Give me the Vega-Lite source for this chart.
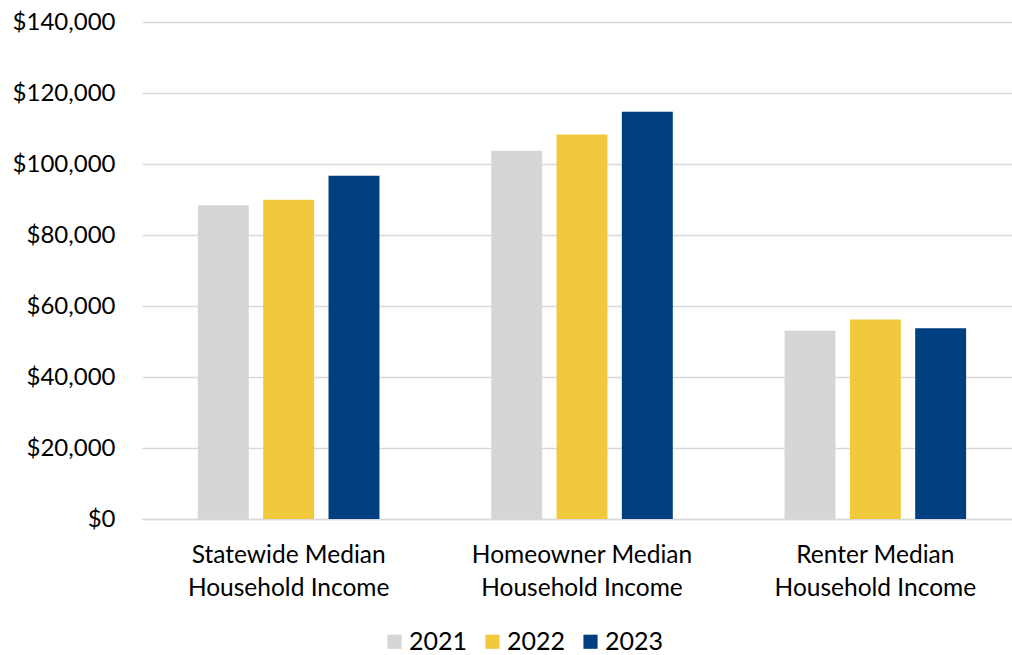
{
  "$schema": "https://vega.github.io/schema/vega-lite/v6.json",
  "width": 880,
  "height": 497,
  "autosize": {"type": "none"},
  "padding": {"left": 142, "top": 22, "right": 0, "bottom": 136},
  "background": "white",
  "data": {
    "values": [
      {"category": "Statewide Median Household Income", "year": "2021", "income": 88400},
      {"category": "Statewide Median Household Income", "year": "2022", "income": 89900},
      {"category": "Statewide Median Household Income", "year": "2023", "income": 96700},
      {"category": "Homeowner Median Household Income", "year": "2021", "income": 103700},
      {"category": "Homeowner Median Household Income", "year": "2022", "income": 108300},
      {"category": "Homeowner Median Household Income", "year": "2023", "income": 114700},
      {"category": "Renter Median Household Income", "year": "2021", "income": 53000},
      {"category": "Renter Median Household Income", "year": "2022", "income": 56200},
      {"category": "Renter Median Household Income", "year": "2023", "income": 53700}
    ]
  },
  "mark": {"type": "bar"},
  "encoding": {
    "x": {
      "field": "category",
      "type": "nominal",
      "sort": null,
      "scale": {"paddingInner": 0.332, "paddingOuter": 0.166},
      "axis": {
        "title": null,
        "labelAngle": 0,
        "labelFont": "Lato",
        "labelFontSize": 24.5,
        "labelColor": "#000000",
        "labelPadding": 24,
        "labelLineHeight": 33,
        "labelBaseline": "top",
        "labelLimit": 400,
        "labelExpr": "split(replace(datum.label, ' Household', '|Household'), '|')",
        "ticks": false,
        "domainColor": "#d9d9d9",
        "domainWidth": 1.5
      }
    },
    "xOffset": {
      "field": "year",
      "type": "nominal",
      "scale": {"paddingInner": 0.22, "paddingOuter": 0.11}
    },
    "y": {
      "field": "income",
      "type": "quantitative",
      "scale": {"domain": [0, 140000]},
      "axis": {
        "title": null,
        "values": [0, 20000, 40000, 60000, 80000, 100000, 120000, 140000],
        "format": "$,.0f",
        "labelFont": "Lato",
        "labelFontSize": 24,
        "labelColor": "#000000",
        "labelPadding": 27,
        "ticks": false,
        "domain": false,
        "gridColor": "#d9d9d9",
        "gridWidth": 1.5
      }
    },
    "color": {
      "field": "year",
      "type": "nominal",
      "scale": {"domain": ["2021", "2022", "2023"], "range": ["#d6d6d6", "#f0ca3c", "#003f7f"]},
      "legend": {
        "title": null,
        "orient": "none",
        "direction": "horizontal",
        "legendX": 240,
        "legendY": 607,
        "symbolType": "square",
        "symbolSize": 200,
        "symbolStrokeWidth": 0,
        "labelFont": "Lato",
        "labelFontSize": 25,
        "labelColor": "#000000",
        "labelOffset": 2,
        "columnPadding": 12
      }
    }
  },
  "config": {"view": {"stroke": null}}
}
